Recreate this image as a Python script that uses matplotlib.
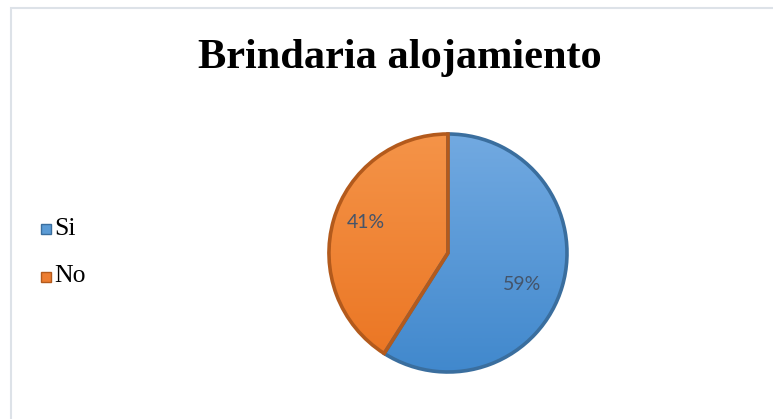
import numpy as np
import matplotlib
matplotlib.use("Agg")
import matplotlib.pyplot as plt
from matplotlib.patches import Rectangle
from matplotlib.colors import LinearSegmentedColormap

title = "Brindaria alojamiento"
categories = ["Si", "No"]
values = [59, 41]
labels_pct = ["59%", "41%"]

base_colors = ["#5B9BD5", "#ED7D31"]
top_colors = ["#74ABE2", "#F5954A"]
bot_colors = ["#3F87CC", "#EA7320"]
edge_colors = ["#3A6E9E", "#B35A1C"]
inner_edge = ["#2F5F8C", "#8F4716"]

W, H = 773, 419
fig = plt.figure(figsize=(W / 100, H / 100), dpi=100)
ax = fig.add_axes([0, 0, 1, 1])

cx, cy, r = 448, H - 253, 119
wedges, _ = ax.pie(values, startangle=90, counterclock=False, radius=r,
                   center=(cx, cy), explode=[0.0, 0.05],
                   colors=base_colors, frame=True,
                   wedgeprops=dict(edgecolor="none", linewidth=0))

ax.set_xlim(0, W)
ax.set_ylim(0, H)
ax.set_aspect("auto")
ax.axis("off")

# gradient fill clipped to each wedge
for w, tc, bc, ec in zip(wedges, top_colors, bot_colors, edge_colors):
    cmap = LinearSegmentedColormap.from_list("g", [bc, tc])
    grad = np.linspace(0, 1, 256).reshape(-1, 1)
    im = ax.imshow(grad, cmap=cmap, origin="lower", aspect="auto",
                   extent=(cx - r - 10, cx + r + 10, cy - r - 10, cy + r + 10),
                   zorder=2)
    im.set_clip_path(w)
    w.set_facecolor("none")
    w.set_edgecolor(ec)
    w.set_linewidth(2.6)
    w.set_zorder(3)

# percentage labels
ax.text(522, H - 285, labels_pct[0], fontsize=14, family="Lato",
        color="#44546A", ha="center", va="center", zorder=4)
ax.text(366, H - 222, labels_pct[1], fontsize=14, family="Lato",
        color="#44546A", ha="center", va="center", zorder=4)

# title
ax.text(400, H - 68, title, fontsize=30.5, family="Liberation Serif",
        weight="bold", ha="center", va="baseline", color="black")

# legend
leg_y = [229, 276]
for cat, y, bc, ec in zip(categories, leg_y, base_colors, edge_colors):
    ax.add_patch(Rectangle((41, H - y - 5.5), 10, 10, facecolor=bc,
                           edgecolor=ec, linewidth=1, zorder=4))
    ax.text(54, H - y, cat, fontsize=18.5, family="Liberation Serif",
            ha="left", va="center", color="black")

# chart border
ax.plot([11, 11, W + 5], [-5, H - 8, H - 8], color="#DDE2E8", lw=1.5,
        solid_joinstyle="miter", clip_on=False)

fig.savefig("out.png", dpi=100)
